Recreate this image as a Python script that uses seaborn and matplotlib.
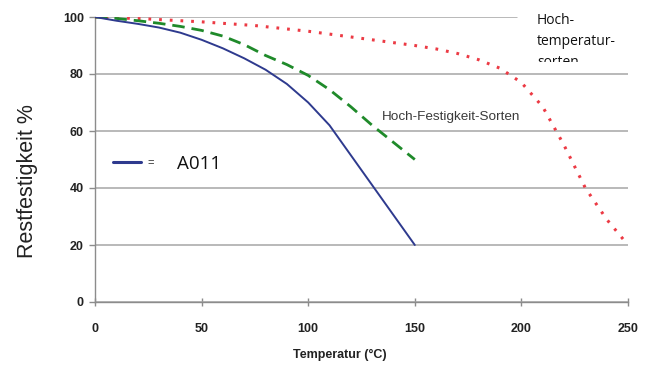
import matplotlib
matplotlib.use("Agg")
import matplotlib.pyplot as plt
import seaborn as sns
import pandas as pd
from matplotlib.transforms import Bbox, TransformedBbox
from matplotlib.lines import Line2D

# Restfestigkeit (%) ueber Temperatur (°C)
temp_a011 = [0, 10, 20, 30, 40, 50, 60, 70, 80, 90, 100, 110, 120, 130, 140, 150]
rest_a011 = [100, 98.7, 97.6, 96.3, 94.5, 92, 89, 85.5, 81.5, 76.5, 70, 62, 51.5, 41, 30.5, 20]

temp_fest = [0, 10, 20, 30, 40, 50, 60, 70, 80, 90, 100, 110, 120, 130, 140, 150]
rest_fest = [100, 99.5, 98.7, 97.8, 96.7, 95.3, 93.3, 90.3, 86.5, 83.3, 79.5, 74.5, 68.5, 62, 56, 50]

temp_hoch = [0, 25, 50, 75, 100, 125, 150, 160, 170, 180, 190, 200, 210, 220, 230, 240, 250]
rest_hoch = [100, 99.3, 98.3, 97, 95, 92.5, 90, 88.8, 87.2, 85, 82, 77, 68.5, 55, 40, 29, 20]

x_ticks = [0, 50, 100, 150, 200, 250]
y_ticks = [0, 20, 40, 60, 80, 100]

sns.set_style("white")
plt.rcParams['font.family'] = ['Liberation Sans', 'DejaVu Sans']

fig = plt.figure(figsize=(6.49, 3.66), dpi=100)
ax = fig.add_axes([95 / 649, 1 - 302 / 366, 533 / 649, 285 / 366])

blue = '#2e3a8e'
green = '#1f8a2a'
red = '#ec3a44'

sns.lineplot(x=temp_hoch, y=rest_hoch, ax=ax, color=red, lw=2.2,
             linestyle=(0, (0.9, 2.6)), dash_capstyle='butt', zorder=3)
sns.lineplot(x=temp_fest, y=rest_fest, ax=ax, color=green, lw=2.0,
             linestyle=(0, (4.5, 2.5)), zorder=4)
sns.lineplot(x=temp_a011, y=rest_a011, ax=ax, color=blue, lw=1.4, zorder=5)

ax.set_xlim(0, 250)
ax.set_ylim(0, 100)
ax.set_xticks(x_ticks)
ax.set_yticks(y_ticks)
ax.set_xticklabels([str(t) for t in x_ticks], fontweight='bold', fontsize=9, color='#222222')
ax.set_yticklabels([str(t) for t in y_ticks], fontweight='bold', fontsize=9, color='#222222')

ax.grid(axis='y', color='#a6a6a6', lw=1.1)
ax.grid(axis='x', visible=False)
ax.get_ygridlines()[-1].set_visible(False)
ax.axhline(100, xmin=0, xmax=(517 - 95) / 533, color='#a6a6a6', lw=1.1, zorder=0.5)
ax.set_axisbelow(True)

for s in ['top', 'right']:
    ax.spines[s].set_visible(False)
for s in ['left', 'bottom']:
    ax.spines[s].set_color('#8c8c8c')
    ax.spines[s].set_linewidth(1.0)

ax.tick_params(axis='y', direction='out', length=4, width=1, color='#8c8c8c', pad=4, left=True)
ax.tick_params(axis='x', direction='inout', length=6, width=1, color='#8c8c8c', pad=12, bottom=True)

ax.set_xlabel('Temperatur (°C)', fontweight='bold', fontsize=9, color='#222222')
ax.xaxis.set_label_coords((340 - 95) / 533, -0.165)
ax.set_ylabel('Restfestigkeit %', fontsize=15.5, color='#222222')
ax.yaxis.set_label_coords(-(95 - 38) / 533, (302 - 181) / 285)

# legend key for the A011 curve
handle = Line2D([], [], color=blue, lw=2.2)
leg = ax.legend(handles=[handle], labels=['='], loc='center left',
                bbox_to_anchor=((113 - 95) / 533, (302 - 163) / 285),
                frameon=False, fontsize=8, handlelength=2.5, handletextpad=0.6,
                borderpad=0, borderaxespad=0)
ax.text((177 - 95) / 533, (302 - 164) / 285, 'A011', transform=ax.transAxes,
        fontsize=13.5, family=['Open Sans', 'DejaVu Sans'], va='center', ha='left',
        color='#111111')

ax.text((382 - 95) / 533, (302 - 117) / 285, 'Hoch-Festigkeit-Sorten', transform=ax.transAxes,
        fontsize=9.7, color='#3a3a3a', va='center', ha='left')

t = fig.text(537 / 649, 1 - 13 / 366, 'Hoch-\ntemperatur-\nsorten', fontsize=10,
             family=['Open Sans', 'DejaVu Sans'], va='top', ha='left',
             linespacing=1.55, color='#111111')
t.set_clip_box(TransformedBbox(Bbox([[510 / 649, 1 - 62 / 366], [1, 1]]), fig.transFigure))
t.set_clip_on(True)

fig.savefig('out.png', dpi=100)
